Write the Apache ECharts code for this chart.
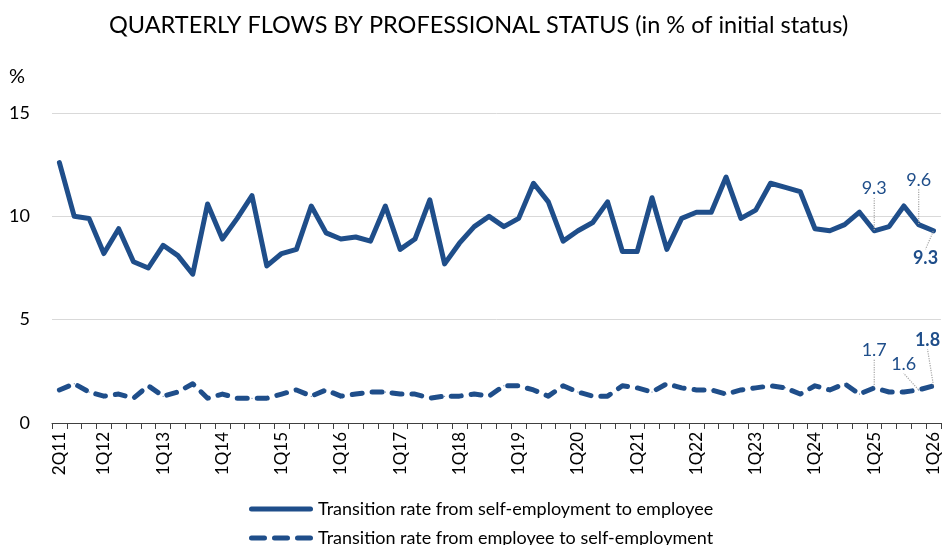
<!DOCTYPE html>
<html>
<head>
<meta charset="utf-8">
<script src="https://cdn.jsdelivr.net/npm/echarts@6/dist/echarts.min.js"></script>
<style>
  html, body { margin: 0; padding: 0; background: #fff; }
  #chart { width: 942px; height: 545px; }
</style>
</head>
<body>
<div id="chart"></div>
<script>
// quarters 2Q11 .. 1Q26
const quarters = []
for (let y = 11; y <= 26; y++) {
  for (let q = 1; q <= 4; q++) {
    if (y === 11 && q === 1) continue
    if (y === 26 && q > 1) break
    quarters.push(q + 'Q' + y)
  }
}

const selfToEmployee = [
  12.6, 10.0, 9.9, 8.2, 9.4, 7.8, 7.5, 8.6, 8.1, 7.2,
  10.6, 8.9, 9.9, 11.0, 7.6, 8.2, 8.4, 10.5, 9.2, 8.9,
  9.0, 8.8, 10.5, 8.4, 8.9, 10.8, 7.7, 8.7, 9.5, 10.0,
  9.5, 9.9, 11.6, 10.7, 8.8, 9.3, 9.7, 10.7, 8.3, 8.3,
  10.9, 8.4, 9.9, 10.2, 10.2, 11.9, 9.9, 10.3, 11.6, 11.4,
  11.2, 9.4, 9.3, 9.6, 10.2, 9.3, 9.5, 10.5, 9.6, 9.3
]
const employeeToSelf = [
  1.6, 1.9, 1.5, 1.3, 1.4, 1.2, 1.8, 1.3, 1.5, 1.9,
  1.2, 1.4, 1.2, 1.2, 1.2, 1.4, 1.6, 1.3, 1.6, 1.3,
  1.4, 1.5, 1.5, 1.4, 1.4, 1.2, 1.3, 1.3, 1.4, 1.3,
  1.8, 1.8, 1.6, 1.3, 1.8, 1.5, 1.3, 1.3, 1.8, 1.7,
  1.5, 1.9, 1.7, 1.6, 1.6, 1.4, 1.6, 1.7, 1.8, 1.7,
  1.4, 1.8, 1.6, 1.9, 1.4, 1.7, 1.5, 1.5, 1.6, 1.8
]
const seriesNames = [
  'Transition rate from self-employment to employee',
  'Transition rate from employee to self-employment'
]
const yTicks = [0, 5, 10, 15]
// quarters whose values are written on the chart (last one in bold)
const labelledIdx = [55, 58, 59]

const BLUE = '#1f4e8a'
const FONT = 'Lato'

// label shifts, per series, per labelled point
const solidShift = { 55: [0, -28], 58: [0, -30], 59: [-8, 13] }
const dashShift = { 55: [0, -23], 58: [-15, -11], 59: [-6, -31] }

function withLabels(values, bottomLast) {
  return values.map((v, i) => {
    if (labelledIdx.indexOf(i) < 0) return v
    const last = i === values.length - 1
    return {
      value: v,
      label: {
        show: true,
        position: last && bottomLast ? 'bottom' : 'top',
        fontWeight: last ? 'bold' : 'normal'
      }
    }
  })
}

function layoutFrom(shift) {
  return (params) => {
    const s = shift[params.dataIndex]
    if (!s) return {}
    return { dx: s[0], dy: s[1] }
  }
}

const labelBase = {
  color: BLUE,
  fontFamily: FONT,
  fontSize: 18,
  formatter: (p) => Number(p.value).toFixed(1)
}
const leader = {
  show: true,
  lineStyle: { color: '#a6a6a6', width: 1.2, type: 'dotted' }
}

// legend icons: a thick bar and three rounded dashes
const solidIcon = 'path://M2.5,0h59a2.5,2.5 0 0 1 0,5h-59a2.5,2.5 0 0 1 0,-5z'
const dashIcon = 'path://M2.5,0h13a2.5,2.5 0 0 1 0,5h-13a2.5,2.5 0 0 1 0,-5z' +
  'M25.5,0h13a2.5,2.5 0 0 1 0,5h-13a2.5,2.5 0 0 1 0,-5z' +
  'M48.5,0h13a2.5,2.5 0 0 1 0,5h-13a2.5,2.5 0 0 1 0,-5z'

function legendRow(name, icon, top) {
  return {
    left: 244,
    top: top,
    itemWidth: 64,
    itemHeight: 5,
    itemGap: 6,
    textStyle: { fontFamily: FONT, fontSize: 18, color: '#000' },
    data: [{ name: name, icon: icon }]
  }
}

const chart = echarts.init(document.getElementById('chart'))
chart.setOption({
  animation: false,
  backgroundColor: '#fff',
  title: {
    text: 'QUARTERLY FLOWS BY PROFESSIONAL STATUS (in % of initial status)',
    left: 104,
    top: 8,
    textStyle: { fontFamily: FONT, fontSize: 23.5, fontWeight: 'normal', color: '#000' }
  },
  graphic: [
    {
      type: 'text',
      left: 9,
      top: 67,
      style: { text: '%', fontFamily: FONT, fontSize: 20, fill: '#000' }
    }
  ],
  legend: [
    legendRow(seriesNames[0], solidIcon, 495),
    legendRow(seriesNames[1], dashIcon, 524)
  ],
  grid: {
    left: 52,
    right: 0,
    top: 113,
    bottom: 122
  },
  xAxis: {
    type: 'category',
    data: quarters,
    boundaryGap: true,
    axisLine: { lineStyle: { color: '#404040', width: 1 } },
    axisTick: { show: true, interval: 0, length: 6, lineStyle: { color: '#404040' } },
    axisLabel: {
      rotate: 90,
      margin: 9,
      fontFamily: FONT,
      fontSize: 17,
      color: '#000',
      interval: (index, value) => index === 0 || value.startsWith('1Q')
    },
    splitLine: { show: false }
  },
  yAxis: {
    type: 'value',
    min: yTicks[0],
    max: yTicks[yTicks.length - 1],
    interval: yTicks[1] - yTicks[0],
    axisLine: { show: false },
    axisTick: { show: false },
    axisLabel: { fontFamily: FONT, fontSize: 18, color: '#000', margin: 22 },
    splitLine: { lineStyle: { color: '#d9d9d9', width: 1 } }
  },
  series: [
    {
      name: seriesNames[0],
      type: 'line',
      data: withLabels(selfToEmployee, true),
      symbol: 'circle',
      symbolSize: 1,
      itemStyle: { color: BLUE },
      lineStyle: { color: BLUE, width: 5, cap: 'round', join: 'round' },
      label: labelBase,
      labelLine: leader,
      labelLayout: layoutFrom(solidShift),
      z: 3
    },
    {
      name: seriesNames[1],
      type: 'line',
      data: withLabels(employeeToSelf, false),
      symbol: 'circle',
      symbolSize: 1,
      itemStyle: { color: BLUE },
      lineStyle: { color: BLUE, width: 5, type: [10, 10], cap: 'round', join: 'round' },
      label: labelBase,
      labelLine: leader,
      labelLayout: layoutFrom(dashShift),
      z: 3
    }
  ]
})
</script>
</body>
</html>
